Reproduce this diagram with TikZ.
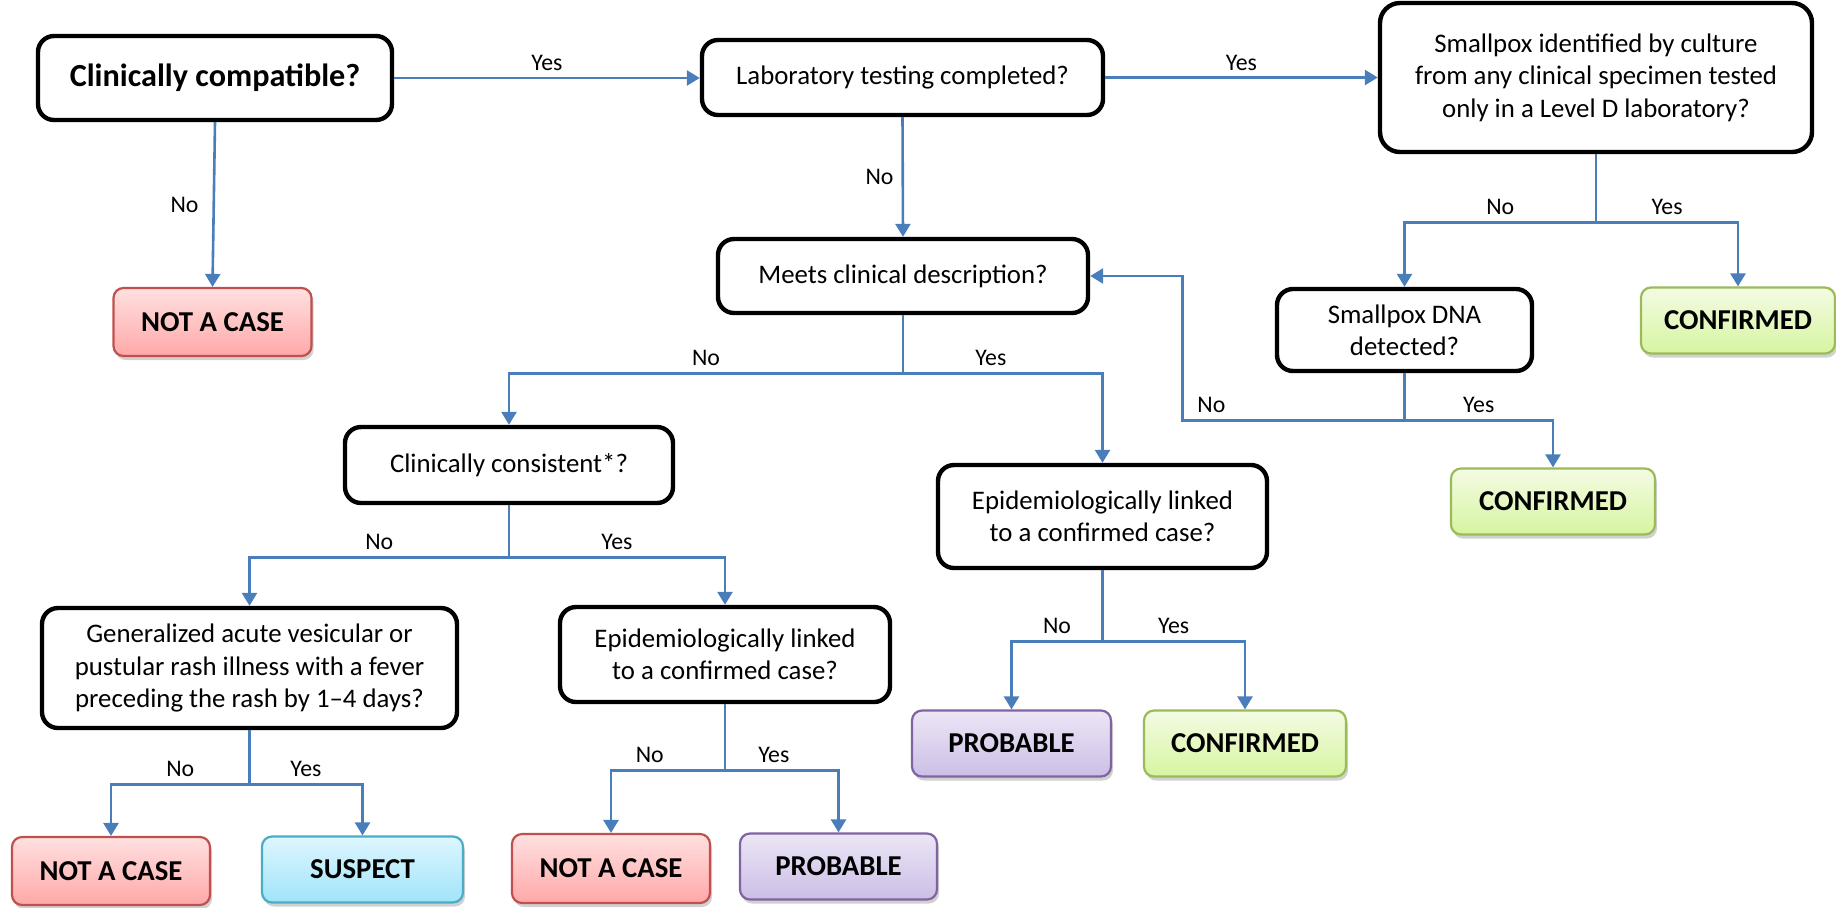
\documentclass[tikz,border=0pt]{standalone}
\usepackage{fontspec}
\setmainfont{Carlito}
\usetikzlibrary{arrows.meta,shadows}

\definecolor{flowblue}{RGB}{74,126,187}
\definecolor{nacline}{RGB}{192,80,77}
\definecolor{nactop}{RGB}{255,224,224}
\definecolor{nacbot}{RGB}{255,168,168}
\definecolor{susline}{RGB}{75,172,198}
\definecolor{sustop}{RGB}{222,246,255}
\definecolor{susbot}{RGB}{160,228,250}
\definecolor{proline}{RGB}{128,100,162}
\definecolor{protop}{RGB}{236,230,246}
\definecolor{probot}{RGB}{204,190,230}
\definecolor{conline}{RGB}{155,187,89}
\definecolor{contop}{RGB}{244,251,228}
\definecolor{conbot}{RGB}{214,245,160}

\tikzset{
  question/.style = {draw = black, line width = 2.2pt, rounded corners = 8pt, fill = white,
    align = center, inner sep = 0pt, font = \fontsize{13.4}{16.2}\selectfont},
  outcome/.style = {line width = 1.1pt, rounded corners = 5pt, inner sep = 0pt,
    minimum width = 99pt, minimum height = 33pt, font = \fontsize{14.4}{16}\selectfont\bfseries,
    drop shadow = {shadow xshift = 1pt, shadow yshift = -2pt, opacity = .3, fill = black!60}},
  notcase/.style = {outcome, draw = nacline, top color = nactop, bottom color = nacbot},
  suspect/.style = {outcome, draw = susline, top color = sustop, bottom color = susbot},
  probable/.style = {outcome, draw = proline, top color = protop, bottom color = probot},
  confirmed/.style = {outcome, draw = conline, top color = contop, bottom color = conbot},
  arr/.style = {draw = flowblue, line width = 1.3pt, -{Triangle[width = 7.5pt, length = 6.5pt]}},
  lbl/.style = {font = \fontsize{11.9}{14}\selectfont, inner sep = 3pt, text = black}
}

\begin{document}
\begin{tikzpicture}[x = .5pt, y = -.5pt]

\useasboundingbox (0, 0) rectangle (1836, 907);

% questions
\node[question, minimum width = 177pt, minimum height = 42pt,
  font = \fontsize{16.1}{19}\selectfont\bfseries] (compat) at (215, 78) {Clinically compatible?};
\node[question, minimum width = 200.5pt, minimum height = 37.5pt] (lab) at (902.5, 77.5) {Laboratory testing completed?};
\node[question, minimum width = 216pt, minimum height = 74.5pt, rounded corners = 10pt] (culture) at (1596, 77.5)
  {Smallpox identified by culture\\from any clinical specimen tested\\only in a Level D laboratory?};
\node[question, minimum width = 185pt, minimum height = 37pt] (meets) at (903, 276) {Meets clinical description?};
\node[question, minimum width = 127.5pt, minimum height = 41pt] (dna) at (1404.5, 330) {Smallpox DNA\\detected?};
\node[question, minimum width = 164pt, minimum height = 38pt] (consist) at (509, 465) {Clinically consistent*?};
\node[question, minimum width = 164.5pt, minimum height = 51.5pt] (epiright) at (1102.5, 516.5)
  {Epidemiologically linked\\to a confirmed case?};
\node[question, minimum width = 207.5pt, minimum height = 60pt] (rash) at (249.5, 668)
  {Generalized acute vesicular or\\pustular rash illness with a fever\\preceding the rash by 1--4 days?};
\node[question, minimum width = 165pt, minimum height = 47.5pt] (epileft) at (725, 654.5)
  {Epidemiologically linked\\to a confirmed case?};

% outcomes
\node[notcase, minimum height = 34pt] (nacase1) at (212.5, 322) {NOT A CASE};
\node[confirmed, minimum width = 97pt] (conf1) at (1738, 320.5) {CONFIRMED};
\node[confirmed, minimum width = 102pt] (conf2) at (1553, 501.5) {CONFIRMED};
\node[probable, minimum width = 99.5pt] (prob1) at (1011.5, 743.5) {PROBABLE};
\node[confirmed, minimum width = 101pt] (conf3) at (1245, 743.5) {CONFIRMED};
\node[notcase, minimum height = 34pt] (nacase2) at (111, 871) {NOT A CASE};
\node[suspect, minimum width = 100.5pt] (susp) at (362.5, 869.5) {SUSPECT};
\node[notcase, minimum height = 34.5pt] (nacase3) at (611, 868.5) {NOT A CASE};
\node[probable, minimum width = 98.5pt] (prob2) at (838.5, 866.5) {PROBABLE};

% connectors
\draw[arr] (compat.east) -- node[lbl, above] (yes1) {Yes} (compat.east -| lab.west);
\draw[arr] (lab.east) -- node[lbl, above] (yes2) {Yes} (lab.east -| culture.west);
\draw[arr] (compat.south) -- node[lbl, left, inner sep = 7pt] (no1) {No} (nacase1.north);
\draw[arr] (lab.south) -- node[lbl, left, inner sep = 4pt] (no2) {No} (meets.north);

\draw[arr] (culture.south) -- ++(0, 68) -| node[lbl, pos = .25, above] (no3) {No} (dna.north);
\draw[arr] (culture.south) -- ++(0, 68) -| node[lbl, pos = .25, above] (yes3) {Yes} (conf1.north);

\draw[arr] (meets.south) -- ++(0, 58) -| node[lbl, pos = .25, above] (no4) {No} (consist.north);
\draw[arr] (meets.south) -- ++(0, 58) -| node[lbl, pos = .22, above] (yes4) {Yes} (epiright.north);

\draw[arr] (dna.south) -- ++(0, 47) -| node[lbl, pos = .25, above] (yes5) {Yes} (conf2.north);
\draw[arr] (dna.south) -- ++(0, 47) -- ++(-222, 0) node[lbl, pos = .87, above] (no5) {No} |- (meets.east);

\draw[arr] (consist.south) -- ++(0, 52) -| node[lbl, pos = .25, above] (no6) {No} (rash.north);
\draw[arr] (consist.south) -- ++(0, 52) -| node[lbl, pos = .25, above] (yes6) {Yes} (epileft.north);

\draw[arr] (epiright.south) -- ++(0, 71) -| node[lbl, pos = .25, above] (no7) {No} (prob1.north);
\draw[arr] (epiright.south) -- ++(0, 71) -| node[lbl, pos = .25, above] (yes7) {Yes} (conf3.north);

\draw[arr] (rash.south) -- ++(0, 54) -| node[lbl, pos = .25, above] (no8) {No} (nacase2.north);
\draw[arr] (rash.south) -- ++(0, 54) -| node[lbl, pos = .25, above] (yes8) {Yes} (susp.north);

\draw[arr] (epileft.south) -- ++(0, 66) -| node[lbl, pos = .33, above] (no9) {No} (nacase3.north);
\draw[arr] (epileft.south) -- ++(0, 66) -| node[lbl, pos = .215, above] (yes9) {Yes} (prob2.north);

\end{tikzpicture}
\end{document}
